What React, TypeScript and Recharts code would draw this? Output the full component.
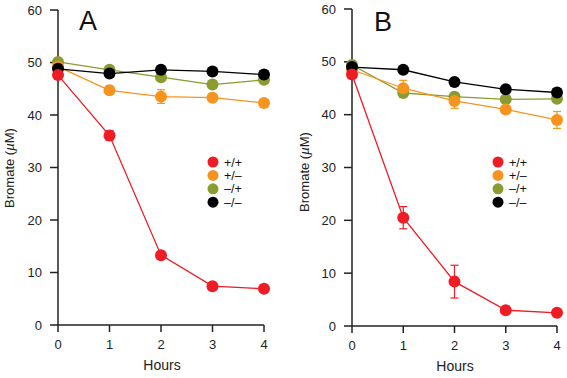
import React from 'react';
import { LineChart, Line, XAxis, YAxis, ErrorBar } from 'recharts';

const hours = [0, 1, 2, 3, 4];
const yTicks = [0, 10, 20, 30, 40, 50, 60];
const seriesNames = ['+/+', '+/\u2013', '\u2013/+', '\u2013/\u2013'];
const seriesColors = ['#ee1c25', '#f7941d', '#8a9b30', '#000000'];

// Panel A
const aPP = [47.6, 36.1, 13.3, 7.4, 6.9];
const aPPErr = [0.3, 0.9, 0.4, 0.3, 0.3];
const aPM = [49.2, 44.7, 43.5, 43.3, 42.3];
const aPMErr = [0.3, 0.8, 1.3, 0.4, 0.4];
const aMP = [50.1, 48.6, 47.2, 45.8, 46.7];
const aMPErr = [0.3, 0.3, 0.4, 0.4, 0.4];
const aMM = [48.8, 47.9, 48.6, 48.3, 47.7];
const aMMErr = [0.3, 0.3, 0.3, 0.3, 0.3];

// Panel B
const bPP = [47.6, 20.5, 8.4, 3.0, 2.5];
const bPPErr = [0.3, 2.1, 3.1, 0.3, 0.3];
const bPM = [48.5, 45.0, 42.6, 41.0, 39.0];
const bPMErr = [0.3, 1.5, 1.4, 0.6, 1.6];
const bMP = [49.4, 44.1, 43.4, 42.9, 43.0];
const bMPErr = [0.3, 0.5, 0.4, 0.3, 0.5];
const bMM = [49.0, 48.5, 46.2, 44.8, 44.2];
const bMMErr = [0.3, 0.3, 0.3, 0.3, 0.3];

function build(vals: number[][], errs: number[][]) {
  return hours.map((h, i) => ({
    h,
    s0: vals[0][i], e0: errs[0][i],
    s1: vals[1][i], e1: errs[1][i],
    s2: vals[2][i], e2: errs[2][i],
    s3: vals[3][i], e3: errs[3][i],
  }));
}

const dataA = build([aPP, aPM, aMP, aMM], [aPPErr, aPMErr, aMPErr, aMMErr]);
const dataB = build([bPP, bPM, bMP, bMM], [bPPErr, bPMErr, bMPErr, bMMErr]);

const FONT = 'Liberation Sans, Arial, Helvetica, sans-serif';
const drawOrder = [2, 1, 3, 0];

function Panel(props: {
  data: any[];
  width: number;
  margin: { top: number; right: number; bottom: number; left: number };
}) {
  const { data, width, margin } = props;
  return (
    <LineChart width={width} height={378} data={data} margin={margin}>
      <XAxis
        dataKey="h"
        type="number"
        domain={[0, 4]}
        ticks={hours}
        tickSize={7}
        height={30}
        axisLine={{ stroke: '#222', strokeWidth: 1.5 }}
        tickLine={{ stroke: '#222', strokeWidth: 1.5 }}
        tick={{ fill: '#222', fontSize: 13, fontFamily: FONT }}
        tickMargin={8}
      />
      <YAxis
        type="number"
        domain={[0, 60]}
        ticks={yTicks}
        width={40}
        tickSize={8}
        axisLine={{ stroke: '#222', strokeWidth: 1.5 }}
        tickLine={{ stroke: '#222', strokeWidth: 1.5 }}
        tick={{ fill: '#222', fontSize: 13, fontFamily: FONT }}
        tickMargin={8}
      />
      {drawOrder.map((i) => (
        <Line
          key={i}
          dataKey={`s${i}`}
          name={seriesNames[i]}
          stroke={seriesColors[i]}
          strokeWidth={1.3}
          dot={{ r: 6, fill: seriesColors[i], stroke: seriesColors[i], strokeWidth: 0 }}
          activeDot={false}
          isAnimationActive={false}
        >
          <ErrorBar dataKey={`e${i}`} width={4} stroke={seriesColors[i]} strokeWidth={1.2} direction="y" />
        </Line>
      ))}
    </LineChart>
  );
}

function LegendBlock(props: { x: number; y: number }) {
  const { x, y } = props;
  return (
    <g>
      {seriesNames.map((n, i) => (
        <g key={n}>
          <circle cx={x} cy={y + i * 13.4} r={5.5} fill={seriesColors[i]} />
          <text x={x + 11} y={y + i * 13.4 + 4.5} fontFamily={FONT} fontSize={12.5} fill="#111">{n}</text>
        </g>
      ))}
    </g>
  );
}

export default function App() {
  return (
    <div style={{ position: 'fixed', left: 0, top: 0, width: 567, height: 378, background: '#fff' }}>
      <div style={{ position: 'absolute', left: 0, top: 0 }}>
        <Panel data={dataA} width={283} margin={{ top: 10, right: 19, bottom: 23, left: 18 }} />
      </div>
      <div style={{ position: 'absolute', left: 283, top: 0 }}>
        <Panel data={dataB} width={284} margin={{ top: 9, right: 10, bottom: 22, left: 29 }} />
      </div>
      <svg width={567} height={378} style={{ position: 'absolute', left: 0, top: 0, pointerEvents: 'none' }}>
        <text x={88} y={30} textAnchor="middle" fontFamily={FONT} fontSize={27} fill="#111">A</text>
        <text x={383} y={31} textAnchor="middle" fontFamily={FONT} fontSize={27} fill="#111">B</text>
        <text x={162} y={370} textAnchor="middle" fontFamily={FONT} fontSize={14} fill="#222">Hours</text>
        <text x={455} y={371} textAnchor="middle" fontFamily={FONT} fontSize={14} fill="#222">Hours</text>
        <text transform="translate(14,168) rotate(-90)" textAnchor="middle" fontFamily={FONT} fontSize={13} fill="#222">
          Bromate (<tspan fontStyle="italic">µ</tspan>M)
        </text>
        <text transform="translate(309,172) rotate(-90)" textAnchor="middle" fontFamily={FONT} fontSize={13} fill="#222">
          Bromate (<tspan fontStyle="italic">µ</tspan>M)
        </text>
        <LegendBlock x={213} y={162} />
        <LegendBlock x={498} y={162} />
      </svg>
    </div>
  );
}
